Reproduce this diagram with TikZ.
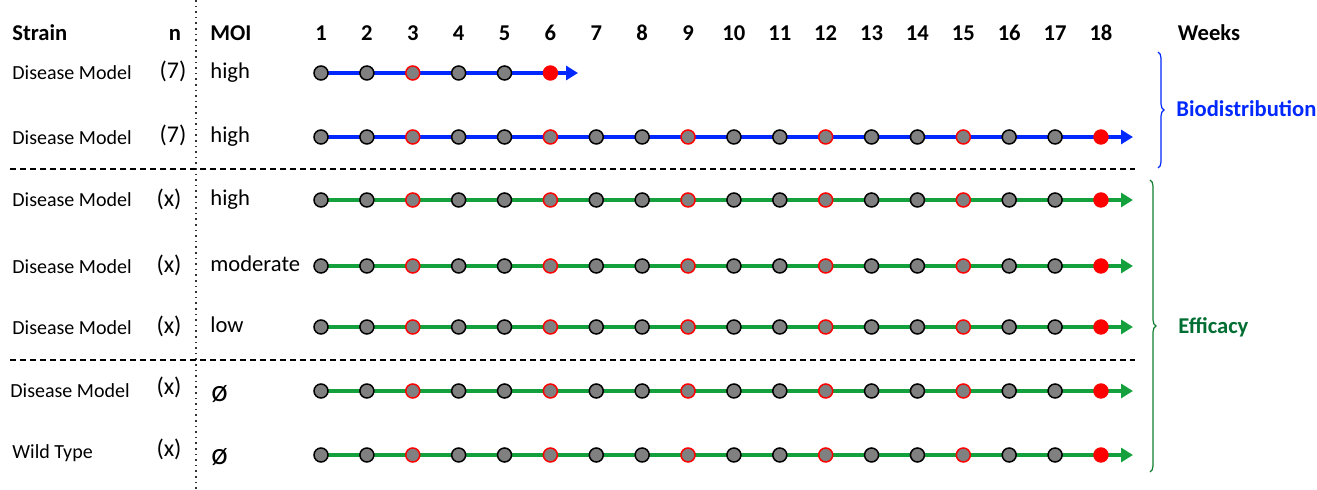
\documentclass[tikz,border=0pt]{standalone}
\usepackage{fontspec}
\setmainfont{Carlito}
\usetikzlibrary{arrows.meta,decorations.pathreplacing}
\definecolor{bline}{RGB}{0,40,255}
\definecolor{gline}{RGB}{20,160,60}
\definecolor{gtext}{RGB}{0,110,50}
\definecolor{dotgray}{RGB}{128,128,128}
\tikzset{
  lbl/.style={font=\fontsize{10}{12}\selectfont, inner sep=0pt, text height=0.64em, text depth=0pt},
  nlbl/.style={font=\fontsize{12}{14}\selectfont, inner sep=0pt, text height=0.64em, text depth=0pt},
  mlbl/.style={font=\fontsize{11.3}{13}\selectfont, inner sep=0pt, text height=0.64em, text depth=0pt},
  elbl/.style={font=\fontsize{15.5}{17}\selectfont, inner sep=0pt, text height=0.47em, text depth=0pt},
  hdr/.style={font=\fontsize{11.3}{13}\selectfont\bfseries, inner sep=0pt, text height=0.64em, text depth=0pt},
  dot/.style={circle, fill=dotgray, draw=black, line width=0.75pt, minimum size=7pt, inner sep=0pt},
  reddot/.style={circle, fill=dotgray, draw=red, line width=0.75pt, minimum size=7pt, inner sep=0pt},
  enddot/.style={circle, fill=red, draw=red, line width=0.5pt, minimum size=7.2pt, inner sep=0pt},
  tline/.style={line width=2pt, -{Triangle[length=6pt,width=7pt]}},
  sep/.style={line width=1pt, dash pattern=on 3pt off 2pt},
}
\begin{document}
\begin{tikzpicture}[x=0.5pt,y=-0.5pt]
\useasboundingbox (0,0) rectangle (1317,490);
% headers
\node[hdr, anchor=west] (hstrain) at (12,34) {Strain};
\node[hdr] (hn) at (175,34) {n};
\node[hdr, anchor=west] (hmoi) at (210,34) {MOI};
\foreach \k in {1,...,18}{
  \node[hdr] (w\k) at ({321+(\k-1)*45.88},34) {\k};
}
\node[hdr] (hweeks) at (1209,34) {Weeks};
% vertical dotted line
\coordinate (vt) at (196,0);
\coordinate (vb) at (196,490);
\draw[line width=0.8pt, dotted, black!80] (vt) -- (vb);
% dashed separators
\coordinate (d1a) at (10,169); \coordinate (d1b) at (1135,169);
\coordinate (d2a) at (10,360); \coordinate (d2b) at (1135,360);
\draw[sep] (d1a) -- (d1b);
\draw[sep] (d2a) -- (d2b);
% row labels
\node[lbl, anchor=west] (s1) at (12,73) {Disease Model};
\node[lbl, anchor=west] (s2) at (12,138) {Disease Model};
\node[lbl, anchor=west] (s3) at (12,200) {Disease Model};
\node[lbl, anchor=west] (s4) at (12,267) {Disease Model};
\node[lbl, anchor=west] (s5) at (12,328) {Disease Model};
\node[lbl, anchor=west] (s6) at (10,391) {Disease Model};
\node[lbl, anchor=west] (s7) at (12,452) {Wild Type};
\node[nlbl] (n1) at (173,72) {(7)};
\node[nlbl] (n2) at (173,136) {(7)};
\node[nlbl] (n3) at (169,200) {(x)};
\node[nlbl] (n4) at (169,266) {(x)};
\node[nlbl] (n5) at (169,327) {(x)};
\node[nlbl] (n6) at (169,388) {(x)};
\node[nlbl] (n7) at (169,450) {(x)};
\node[mlbl, anchor=west] (m1) at (210,72) {high};
\node[mlbl, anchor=west] (m2) at (210,136) {high};
\node[mlbl, anchor=west] (m3) at (210,199) {high};
\node[mlbl, anchor=west] (m4) at (210,265) {moderate};
\node[mlbl, anchor=west] (m5) at (210,326) {low};
\node[elbl, anchor=west] (m6) at (211,397) {ø};
\node[elbl, anchor=west] (m7) at (211,460) {ø};
% row 1 (short, blue)
\coordinate (r1s) at (321,73);
\coordinate (r1e) at (578,73);
\draw[tline, bline] (r1s) -- (r1e);
\foreach \k in {1,...,6}{
  \pgfmathtruncatemacro{\m}{mod(\k,3)}
  \ifnum\k=6
    \node[enddot] (r1c\k) at ({321+(\k-1)*45.88},73) {};
  \else\ifnum\m=0
    \node[reddot] (r1c\k) at ({321+(\k-1)*45.88},73) {};
  \else
    \node[dot] (r1c\k) at ({321+(\k-1)*45.88},73) {};
  \fi\fi
}
% rows 2..7
\foreach \r/\y/\c in {2/137/bline,3/200/gline,4/266/gline,5/327/gline,6/391/gline,7/455/gline}{
  \coordinate (r\r s) at (321,\y);
  \coordinate (r\r e) at (1133,\y);
  \draw[tline, \c] (r\r s) -- (r\r e);
  \foreach \k in {1,...,18}{
    \pgfmathtruncatemacro{\m}{mod(\k,3)}
    \ifnum\k=18
      \node[enddot] (r\r c\k) at ({321+(\k-1)*45.88},\y) {};
    \else\ifnum\m=0
      \node[reddot] (r\r c\k) at ({321+(\k-1)*45.88},\y) {};
    \else
      \node[dot] (r\r c\k) at ({321+(\k-1)*45.88},\y) {};
    \fi\fi
  }
}
% braces
\coordinate (b1t) at (1158,52);
\coordinate (b1b) at (1158,168);
\draw[bline, line width=0.6pt, decorate, decoration={brace, amplitude=3pt}] (b1t) -- (b1b);
\coordinate (b2t) at (1150,180);
\coordinate (b2b) at (1150,472);
\draw[gline!80!black, line width=0.6pt, decorate, decoration={brace, amplitude=3pt}] (b2t) -- (b2b);
\node[hdr, anchor=west, text=bline] (bio) at (1176,110) {Biodistribution};
\node[hdr, anchor=west, text=gtext] (eff) at (1178,327) {Efficacy};
\end{tikzpicture}
\end{document}
